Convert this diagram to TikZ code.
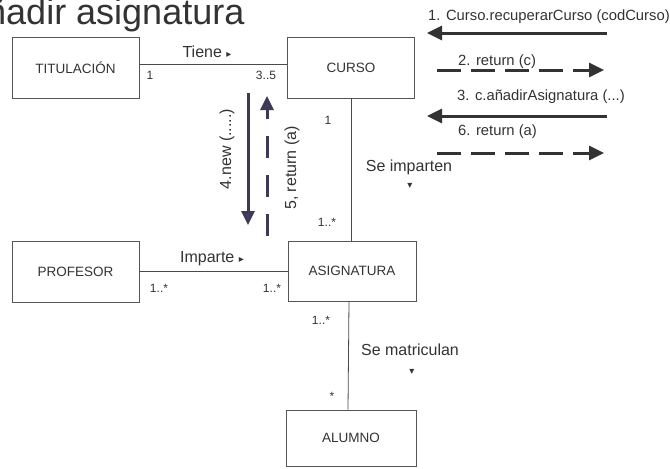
\documentclass[tikz,border=0pt]{standalone}
\usepackage{fontspec}
\setmainfont{Liberation Sans}
\newfontfamily\symfont{DejaVu Sans}
\usetikzlibrary{arrows.meta}
\definecolor{boxc}{HTML}{555555}
\definecolor{linec}{HTML}{4A4A4A}
\definecolor{arrc}{HTML}{333333}
\definecolor{varr}{HTML}{3D3A55}
\definecolor{vhead}{HTML}{4A3D6B}
\definecolor{txt}{HTML}{333333}
\tikzset{
  cls/.style={draw=boxc, line width=0.9pt, minimum width=127pt, minimum height=61pt, inner sep=0pt, font=\fontsize{13.5}{15}\selectfont, text=txt},
  assoc/.style={draw=linec, line width=0.8pt},
  mult/.style={font=\fontsize{12}{13}\selectfont, text=txt, inner sep=0pt},
  lbl/.style={font=\fontsize{16}{18}\selectfont, text=txt, inner sep=0pt},
  msg/.style={font=\fontsize{14.8}{17}\selectfont, text=txt, inner sep=0pt, anchor=base west},
  callarr/.style={draw=arrc, line width=3pt, -{Triangle[length=15pt,width=14pt]}},
  retarr/.style={draw=arrc, line width=3pt, dash pattern=on 24pt off 10pt, -{Triangle[length=15pt,width=14pt]}},
  vcall/.style={draw=varr, line width=3pt, -{Triangle[length=14pt,width=13pt,fill=vhead]}},
  vret/.style={draw=varr, line width=3pt, dash pattern=on 22pt off 17pt, -{Triangle[length=14pt,width=13pt,fill=vhead]}},
}
\begin{document}
\begin{tikzpicture}[x=1pt,y=-1pt]
\useasboundingbox[fill=white] (0,0) rectangle (670,469);
% title
\node[anchor=base west, inner sep=0pt, font=\fontsize{36}{42}\selectfont, text=txt] (title) at (-38,24) {Añadir asignatura};
% classes
\node[cls] (tit) at (75.5,67.5) {TITULACIÓN};
\node[cls] (curso) at (351,67.5) {CURSO};
\node[cls] (prof) at (75.5,271.5) {PROFESOR};
\node[cls, minimum width=128pt, minimum height=60pt] (asig) at (352,271) {ASIGNATURA};
\node[cls, minimum width=130pt, minimum height=56pt] (alum) at (351,438) {ALUMNO};
% associations
\draw[assoc] ([yshift=3.5pt]tit.east) -- ([yshift=3.5pt]curso.west);
\draw[assoc] (curso.south) -- (curso.south |- asig.north);
\draw[assoc] (prof.east) -- (prof.east -| asig.west);
\draw[assoc] ([xshift=-3pt]asig.south) -- ([xshift=-4pt]alum.north -| asig.south);
% association labels
\node[lbl] (tiene) at (207,52) {Tiene {\symfont\fontsize{10}{10}\selectfont ▸}};
\node[lbl] (imparte) at (212,259) {Imparte {\symfont\fontsize{10}{10}\selectfont ▸}};
\node[lbl] (seimp) at (409,167) {Se imparten};
\node[inner sep=0pt, text=txt, font=\symfont\fontsize{10}{10}\selectfont] (seimpt) at (410,186) {▾};
\node[lbl] (semat) at (410,350) {Se matriculan};
\node[inner sep=0pt, text=txt, font=\symfont\fontsize{10}{10}\selectfont] (semattr) at (412,372) {▾};
% multiplicities
\node[mult] (m1) at (150,75) {1};
\node[mult] (m2) at (266,75) {3..5};
\node[mult] (m3) at (328,120) {1};
\node[mult] (m4) at (327,222) {1..*};
\node[mult] (m5) at (159,288) {1..*};
\node[mult] (m6) at (272,288) {1..*};
\node[mult] (m7) at (321,320) {1..*};
\node[mult] (m8) at (332,396) {*};
% messages right
\coordinate (a1s) at (607,33); \coordinate (a1e) at (427,33);
\coordinate (a2s) at (437,70); \coordinate (a2e) at (604,70);
\coordinate (a3s) at (607,116); \coordinate (a3e) at (427,116);
\coordinate (a6s) at (437,153); \coordinate (a6e) at (604,153);
\draw[callarr] (a1s) -- (a1e);
\draw[retarr] (a2s) -- (a2e);
\draw[callarr] (a3s) -- (a3e);
\draw[retarr] (a6s) -- (a6e);
\node[msg] (t1) at (428,20) {1. Curso.recuperarCurso (codCurso)};
\node[msg] (t2) at (458,65) {2. return (c)};
\node[msg] (t3) at (457,100) {3. c.añadirAsignatura (...)};
\node[msg] (t6) at (458,135) {6. return (a)};
% vertical messages
\coordinate (v4s) at (248,93); \coordinate (v4e) at (248,225);
\coordinate (v5s) at (267,236); \coordinate (v5e) at (267,96);
\draw[vcall] (v4s) -- (v4e);
\draw[vret] (v5s) -- (v5e);
\node[lbl, font=\fontsize{16}{18}\selectfont, rotate=90] (t4) at (227,149) {4.new (.....)};
\node[lbl, font=\fontsize{16}{18}\selectfont, rotate=90] (t5) at (292,168) {5, return (a)};
\end{tikzpicture}
\end{document}
